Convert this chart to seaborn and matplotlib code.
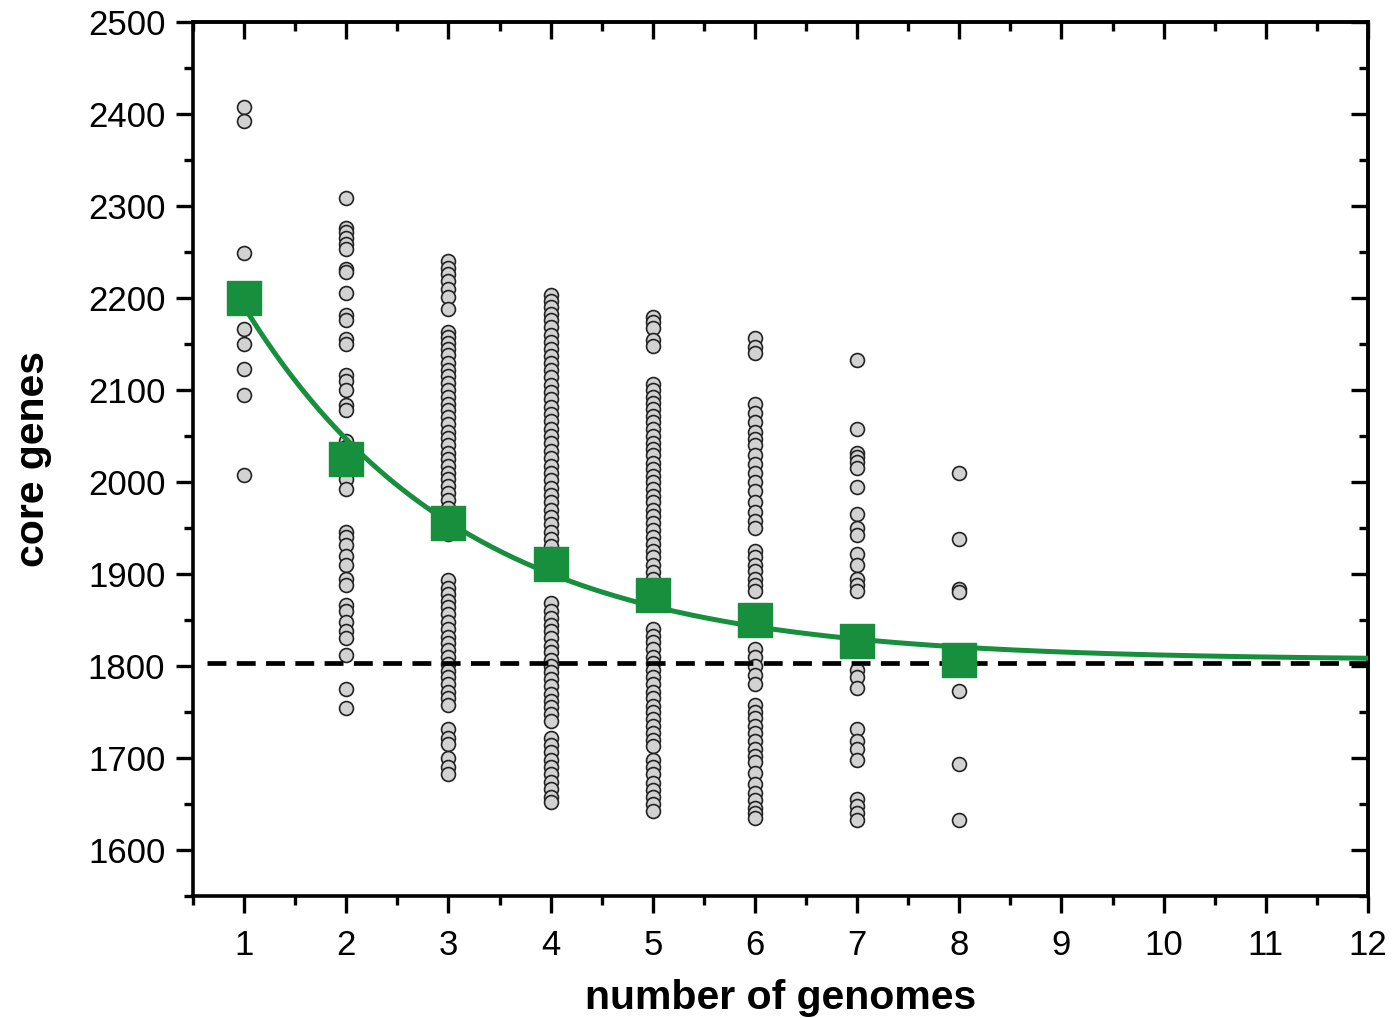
import numpy as np
import pandas as pd
import matplotlib
matplotlib.use("Agg")
import matplotlib.pyplot as plt
import seaborn as sns

# ---------------- data ----------------
genomes_1 = [2408, 2393, 2249, 2167, 2150, 2123, 2095, 2008]
genomes_2 = [2309, 2276, 2272, 2266, 2259, 2253, 2232, 2228, 2206, 2182, 2176, 2156,
             2150, 2117, 2110, 2100, 2084, 2078, 2045, 2038, 2020, 2003, 1993, 1946,
             1940, 1932, 1920, 1910, 1895, 1888, 1866, 1860, 1848, 1838, 1830, 1812,
             1775, 1754]
genomes_3 = [2240, 2233, 2226, 2219, 2210, 2201, 2188, 2163, 2158, 2151, 2145, 2138,
             2130, 2122, 2115, 2108, 2100, 2093, 2085, 2078, 2071, 2063, 2055, 2048,
             2040, 2032, 2025, 2018, 2010, 2003, 1996, 1988, 1980, 1972, 1965, 1958,
             1950, 1944, 1893, 1885, 1878, 1871, 1864, 1856, 1848, 1840, 1832, 1825,
             1817, 1810, 1802, 1795, 1788, 1780, 1772, 1765, 1758, 1731, 1722, 1715,
             1700, 1690, 1683]
genomes_4 = [2203, 2197, 2190, 2183, 2176, 2169, 2160, 2152, 2145, 2137, 2130, 2122,
             2114, 2106, 2098, 2090, 2082, 2074, 2066, 2058, 2050, 2042, 2034, 2026,
             2018, 2010, 2002, 1994, 1986, 1978, 1970, 1962, 1954, 1946, 1938, 1930,
             1922, 1914, 1906, 1868, 1860, 1852, 1845, 1838, 1830, 1822, 1815, 1807,
             1800, 1793, 1786, 1778, 1770, 1762, 1755, 1748, 1740, 1722, 1714, 1706,
             1698, 1690, 1682, 1674, 1666, 1658, 1652]
genomes_5 = [2180, 2174, 2168, 2155, 2148, 2107, 2100, 2093, 2086, 2079, 2072, 2065,
             2058, 2050, 2043, 2036, 2029, 2021, 2014, 2007, 2000, 1993, 1985, 1978,
             1970, 1963, 1955, 1948, 1940, 1933, 1925, 1918, 1910, 1902, 1895, 1840,
             1833, 1826, 1818, 1810, 1803, 1796, 1788, 1780, 1772, 1765, 1757, 1750,
             1742, 1735, 1727, 1720, 1713, 1698, 1690, 1682, 1673, 1665, 1657, 1650,
             1642]
genomes_6 = [2157, 2147, 2140, 2085, 2075, 2065, 2055, 2047, 2040, 2030, 2020, 2010,
             2000, 1990, 1978, 1968, 1958, 1950, 1925, 1918, 1910, 1903, 1895, 1888,
             1882, 1818, 1810, 1800, 1790, 1780, 1758, 1750, 1743, 1735, 1727, 1718,
             1710, 1702, 1696, 1684, 1672, 1662, 1654, 1646, 1640, 1635]
genomes_7 = [2133, 2058, 2032, 2027, 2022, 2015, 1995, 1965, 1950, 1942, 1922, 1910,
             1895, 1888, 1882, 1796, 1788, 1776, 1732, 1718, 1710, 1698, 1655, 1648,
             1640, 1632]
genomes_8 = [2010, 1938, 1884, 1880, 1773, 1693, 1632]

mean_x = [1, 2, 3, 4, 5, 6, 7, 8]
mean_core = [2200, 2025, 1956, 1911, 1877, 1850, 1827, 1806]

core_asymptote = 1803
x_ticks = [1, 2, 3, 4, 5, 6, 7, 8, 9, 10, 11, 12]
y_ticks = [1600, 1700, 1800, 1900, 2000, 2100, 2200, 2300, 2400, 2500]

# ---------------- build tables ----------------
columns = [genomes_1, genomes_2, genomes_3, genomes_4,
           genomes_5, genomes_6, genomes_7, genomes_8]
rows = []
for i, vals in enumerate(columns, start=1):
    for v in vals:
        rows.append({"n": i, "core": v})
df = pd.DataFrame(rows)
df_mean = pd.DataFrame({"n": mean_x, "core": mean_core})

# exponential decay fit y = A*exp(-x/t) + C to the means
mx = np.array(mean_x, float)
my = np.array(mean_core, float)
best = None
for t in np.linspace(0.5, 6, 1101):
    M = np.column_stack([np.exp(-mx / t), np.ones_like(mx)])
    coef, *_ = np.linalg.lstsq(M, my, rcond=None)
    err = np.sum((M @ coef - my) ** 2)
    if best is None or err < best[0]:
        best = (err, t, coef)
_, t_fit, (A_fit, C_fit) = best
xf = np.linspace(1, 12, 300)
df_fit = pd.DataFrame({"n": xf, "core": A_fit * np.exp(-xf / t_fit) + C_fit})

# ---------------- plot ----------------
sns.set_theme(style="white")
plt.rcParams["font.family"] = ["Liberation Sans", "DejaVu Sans"]
plt.rcParams["text.color"] = "black"
plt.rcParams["axes.labelcolor"] = "black"

fig = plt.figure(figsize=(13.93, 10.18), dpi=100)
ax = fig.add_axes([0.1386, 0.12, 0.982 - 0.1386, 0.978 - 0.12])

green = "#178f3c"

sns.scatterplot(data=df, x="n", y="core", ax=ax, s=100, color="#d2d2d2",
                edgecolor="#222222", linewidth=1.2, zorder=3, legend=False)
ax.plot([0.64, 12], [core_asymptote, core_asymptote], color="black",
        lw=3.4, dashes=(4, 2.2), zorder=4)
sns.lineplot(data=df_fit, x="n", y="core", ax=ax, color=green, lw=3.6,
             zorder=5, legend=False)
sns.scatterplot(data=df_mean, x="n", y="core", ax=ax, marker="s", s=620,
                color=green, edgecolor=green, linewidth=1, zorder=6, legend=False)

ax.set_xlim(0.5, 12)
ax.set_ylim(1550, 2500)
ax.set_xticks(x_ticks)
ax.set_yticks(y_ticks)
ax.set_xticks(np.arange(0.5, 12.01, 0.5), minor=True)
ax.set_yticks(np.arange(1550, 2501, 50), minor=True)

for s in ax.spines.values():
    s.set_visible(True)
    s.set_linewidth(2.6)
    s.set_color("black")

ax.tick_params(axis="both", which="major", direction="out", length=12, width=2.4,
               labelsize=25, colors="black", bottom=True, left=True)
ax.tick_params(axis="x", which="major", pad=12)
ax.tick_params(axis="y", which="major", pad=8)
ax.tick_params(axis="both", which="minor", direction="out", length=6.5, width=2.4,
               bottom=True, left=True, colors="black")

# mirrored inward ticks on top and right
top = ax.secondary_xaxis("top")
top.set_xticks(x_ticks)
top.set_xticks(np.arange(0.5, 12.01, 0.5), minor=True)
top.tick_params(which="both", top=True, direction="in", width=2.4, labeltop=False,
                colors="black")
top.tick_params(which="major", length=12)
top.tick_params(which="minor", length=6.5)
top.spines["top"].set_linewidth(2.6)
right = ax.secondary_yaxis("right")
right.set_yticks(y_ticks)
right.set_yticks(np.arange(1550, 2501, 50), minor=True)
right.tick_params(which="both", right=True, direction="in", width=2.4, labelright=False,
                  colors="black")
right.tick_params(which="major", length=12)
right.tick_params(which="minor", length=6.5)
right.spines["right"].set_linewidth(2.6)

ax.set_xlabel("number of genomes", fontsize=29.5, fontweight="bold", labelpad=12,
              color="black")
ax.set_ylabel("core genes", fontsize=29.5, fontweight="bold", labelpad=26,
              color="black")

fig.savefig("out.png", dpi=100)
